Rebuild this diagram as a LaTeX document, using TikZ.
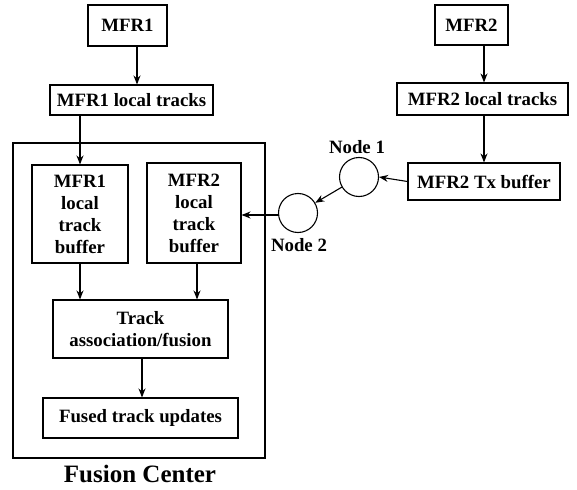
\documentclass[tikz,border=0pt]{standalone}
\usepackage{fontspec}
\setmainfont{Liberation Serif}
\usetikzlibrary{arrows.meta}
\tikzset{
  blk/.style={draw, line width=1.1pt, align=center, inner sep=0pt,
    font=\fontsize{18.8}{22}\selectfont\bfseries},
  hub/.style={draw, circle, line width=1.1pt, minimum size=39pt, inner sep=0pt},
  lbl/.style={font=\fontsize{18.8}{22}\selectfont\bfseries, inner sep=0pt},
  flow/.style={line width=1.1pt, -{Stealth[length=9pt,width=7pt]}}
}
\begin{document}
\begin{tikzpicture}[x=1pt,y=-1pt]
\useasboundingbox (0,0) rectangle (577,489);

% Fusion center enclosure
\node[draw, line width=1.1pt, minimum width=252pt, minimum height=315pt, inner sep=0pt] (fc) at (139,300.5) {};
\node[font=\fontsize{25}{28}\selectfont\bfseries, inner sep=0pt] (fclbl) at (140,474) {Fusion Center};

% Radar 1 chain
\node[blk, minimum width=79pt, minimum height=41pt] (mfr1) at (127.5,25.5) {MFR1};
\node[blk, minimum width=163pt, minimum height=30pt] (mfr1lt) at (131.5,100) {MFR1 local tracks};

% Buffers inside the fusion center
\node[blk, minimum width=96pt, minimum height=98pt] (buf1) at (80,214) {MFR1\\local\\track\\buffer};
\node[blk, minimum width=94pt, minimum height=100pt] (buf2) at (194,213) {MFR2\\local\\track\\buffer};
\node[blk, minimum width=175pt, minimum height=58pt] (assoc) at (140.5,329) {Track\\association/fusion};
\node[blk, minimum width=195pt, minimum height=40pt] (fused) at (140.5,418) {Fused track updates};

% Radar 2 chain
\node[blk, minimum width=73pt, minimum height=40pt] (mfr2) at (471.5,25) {MFR2};
\node[blk, minimum width=171pt, minimum height=32pt] (mfr2lt) at (482.5,99) {MFR2 local tracks};
\node[blk, minimum width=152pt, minimum height=37pt] (tx) at (484,181.5) {MFR2 Tx buffer};

% Relay nodes
\node[hub] (n1) at (359,177) {};
\node[hub] (n2) at (298,213) {};
\node[lbl] (n1lbl) at (357,147) {Node 1};
\node[lbl] (n2lbl) at (299,245) {Node 2};

% Connections
\draw[flow] ([xshift=9.5pt]mfr1.south) -- ([xshift=9.5pt]mfr1.south |- mfr1lt.north);
\draw[flow] (buf1.north |- mfr1lt.south) -- (buf1.north);
\draw[flow] (buf1.south) -- (buf1.south |- assoc.north);
\draw[flow] ([xshift=3pt]buf2.south) -- ([xshift=3pt]buf2.south |- assoc.north);
\draw[flow] ([xshift=1.5pt]assoc.south) -- ([xshift=1.5pt]assoc.south |- fused.north);
\draw[flow] ([xshift=12.5pt]mfr2.south) -- ([xshift=12.5pt]mfr2.south |- mfr2lt.north);
\draw[flow] (tx.north |- mfr2lt.south) -- (tx.north);
\draw[flow] (tx.west) -- (n1.east);
\draw[flow] (n1) -- (n2);
\draw[flow] ([yshift=-2pt]n2.west) -- ([yshift=-2pt]n2.west -| buf2.east);
\end{tikzpicture}
\end{document}
